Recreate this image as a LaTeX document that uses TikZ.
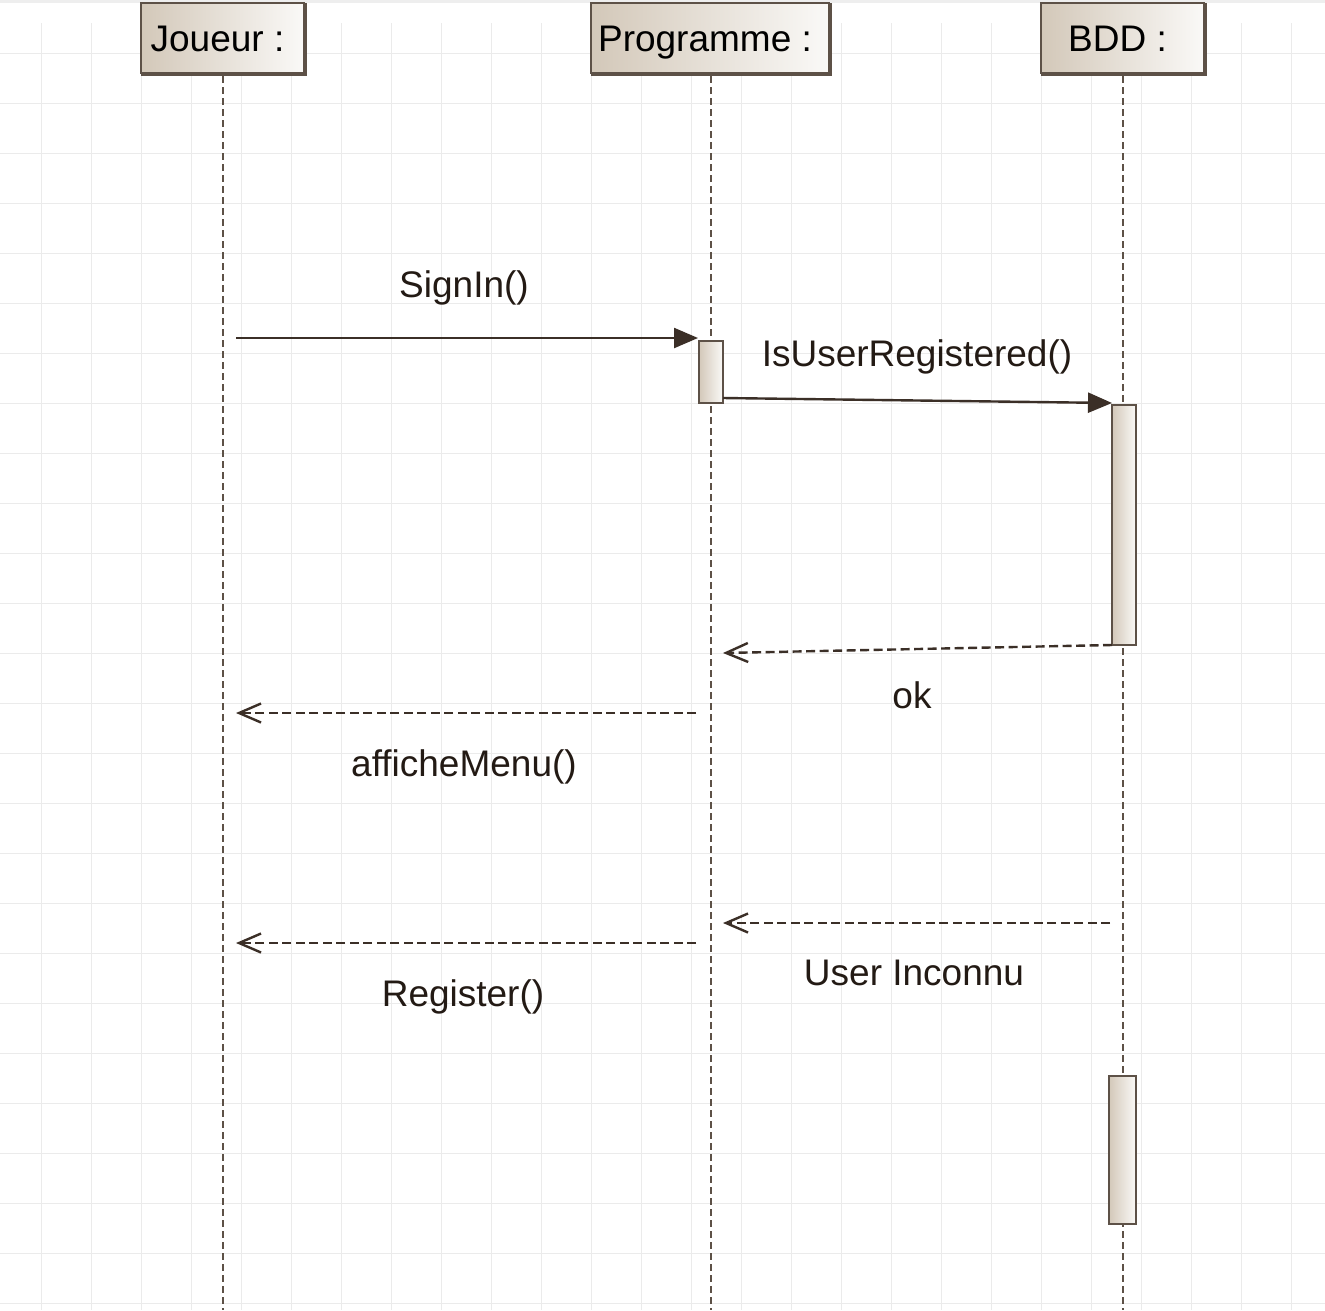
\documentclass[tikz,border=0pt]{standalone}
\usepackage{fontspec}
\setmainfont{Liberation Sans}
\usetikzlibrary{arrows.meta}
\definecolor{gridc}{HTML}{EBEBEB}
\definecolor{stripc}{HTML}{EEEEEE}
\definecolor{boxb}{HTML}{5D5147}
\definecolor{msgc}{HTML}{3B2F27}
\definecolor{txtc}{HTML}{231A14}
\definecolor{shadeL}{HTML}{D3C8B9}
\definecolor{shadeR}{HTML}{FAF9F7}
\tikzset{
  head/.style={draw=boxb, line width=2pt, left color=shadeL, right color=shadeR,
    minimum height=70pt, inner sep=0pt, text height=26pt, text depth=0pt,
    font=\fontsize{37}{44}\selectfont, text=black},
  act/.style={draw=boxb, line width=2.2pt, left color=shadeL, right color=shadeR, inner sep=0pt},
  lifeline/.style={draw=boxb, line width=2.6pt, dash pattern=on 7pt off 4pt},
  syncmsg/.style={draw=msgc, line width=2.4pt, -{Triangle[length=24pt,width=20pt]}},
  retmsg/.style={draw=msgc, line width=2.4pt, dash pattern=on 9pt off 4.5pt,
    -{Straight Barb[length=22pt,width=19pt,line width=2.4pt]}},
  headshadow/.style={draw=boxb, line width=1.6pt},
  lbl/.style={font=\fontsize{37}{44}\selectfont, text=txtc, anchor=base, inner sep=0pt}
}
\begin{document}
\begin{tikzpicture}[x=1pt,y=-1pt]
\useasboundingbox (0,0) rectangle (1325,1310);
% background
\fill[white] (0,0) rectangle (1325,1310);
\fill[stripc] (0,0) rectangle (1325,3);
\foreach \i in {0,...,25} {
  \draw[gridc, line width=1pt] (41+50*\i,23) -- (41+50*\i,1310);
  \draw[gridc, line width=1pt] (0,53+50*\i) -- (1325,53+50*\i);
}
% heads
\node[head, minimum width=163pt] (J) at (222.5,38) {Joueur :\kern10pt};
\node[head, minimum width=238pt] (P) at (710,38) {Programme :\kern10pt};
\node[head, minimum width=163pt] (B) at (1122.5,38) {BDD :\kern10pt};
\foreach \n in {J,P,B} {
  \draw[headshadow] ([xshift=1pt,yshift=-1.2pt]\n.south west) -- ([xshift=1.2pt,yshift=-1.2pt]\n.south east) -- ([xshift=1.2pt,yshift=-1pt]\n.north east);
}
% lifeline ends
\coordinate (Jend) at (223,1310);
\coordinate (Pend) at (711,1310);
\coordinate (Bend) at (1123,1310);
\draw[lifeline] ([yshift=-2pt]J.south -| Jend) -- (Jend);
\draw[lifeline] ([yshift=-2pt]P.south -| Pend) -- (Pend);
\draw[lifeline] ([yshift=-2pt]B.south -| Bend) -- (Bend);
% activations
\node[act, minimum width=24pt, minimum height=62pt] (A1) at (711,372) {};
\node[act, minimum width=24pt, minimum height=240pt] (A2) at (1124,525) {};
\node[act, minimum width=27pt, minimum height=148pt] (A3) at (1122.5,1150) {};
% message endpoints
\coordinate (m1s) at (236,338);
\coordinate (m1e) at (698,338);
\coordinate (m2s) at (723,398);
\coordinate (m2e) at (1112,403);
\coordinate (m3s) at (1112,645);
\coordinate (m3e) at (723,653);
\coordinate (m4s) at (696,713);
\coordinate (m4e) at (236,713);
\coordinate (m5s) at (1110,923);
\coordinate (m5e) at (723,923);
\coordinate (m6s) at (696,943);
\coordinate (m6e) at (236,943);
% messages
\draw[syncmsg] (m1s) -- (m1e);
\draw[syncmsg] (m2s) -- (m2e);
\draw[retmsg] (m3s) -- (m3e);
\draw[retmsg] (m4s) -- (m4e);
\draw[retmsg] (m5s) -- (m5e);
\draw[retmsg] (m6s) -- (m6e);
% labels
\node[lbl] (l1) at (464,297) {SignIn()};
\node[lbl] (l2) at (917,366) {IsUserRegistered()};
\node[lbl] (l3) at (912,708) {ok};
\node[lbl] (l4) at (464,776) {afficheMenu()};
\node[lbl] (l5) at (914,985) {User Inconnu};
\node[lbl] (l6) at (463,1006) {Register()};
\end{tikzpicture}
\end{document}
